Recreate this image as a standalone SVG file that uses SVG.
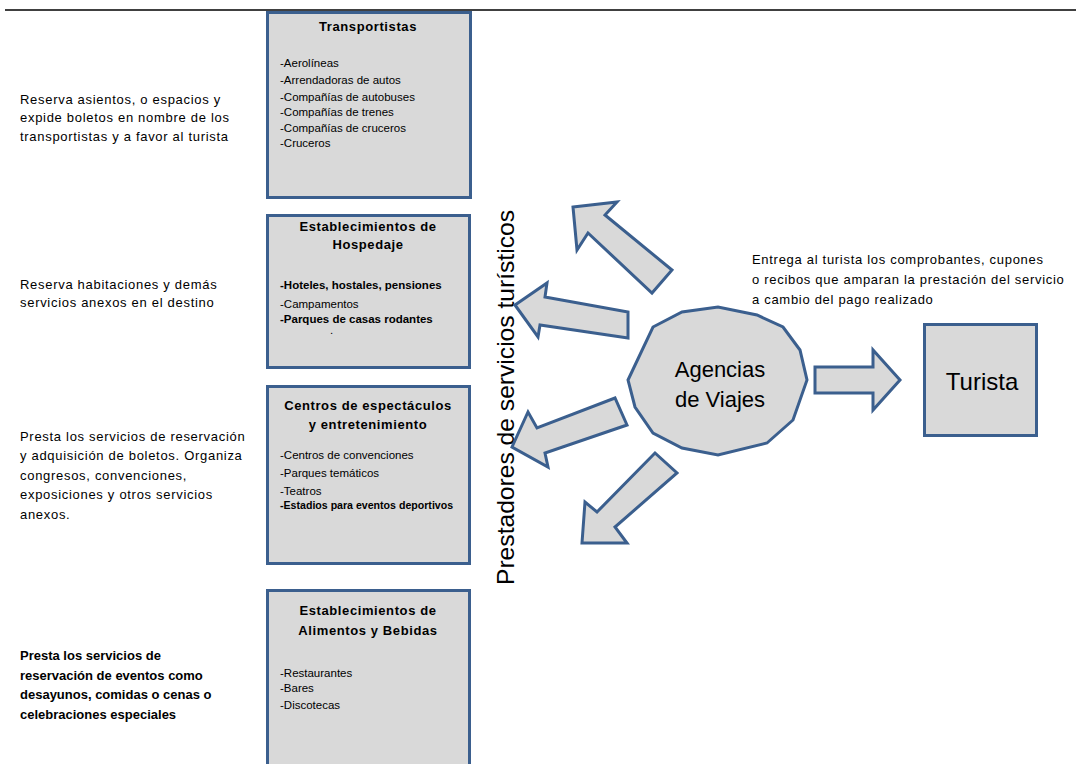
<svg xmlns="http://www.w3.org/2000/svg" width="1076" height="764" viewBox="0 0 1076 764">
<style>
.box{fill:#d9d9d9;stroke:#3b5f8e;stroke-width:3}
.shape{fill:#d9d9d9;stroke:#3b5f8e;stroke-width:3;stroke-linejoin:miter}
.t{font-family:"Liberation Sans",Arial,sans-serif;fill:#000}
.title{font-size:13px;font-weight:bold;text-anchor:middle;letter-spacing:0.6px}
.item{font-size:11.5px}
.desc{font-size:13px;letter-spacing:0.7px}
.descb{font-size:13px;font-weight:bold}
.big{font-size:22px;text-anchor:middle}
</style>
<rect width="1076" height="764" fill="#fff"/>
<line x1="5" y1="10" x2="1076" y2="10" stroke="#000" stroke-width="1.5"/>

<g id="desc-transportistas">
<text class="t desc" x="20" y="104">Reserva asientos, o espacios y</text>
<text class="t desc" x="20" y="122">expide boletos en nombre de los</text>
<text class="t desc" x="20" y="141">transportistas y a favor al turista</text>
</g>
<g id="desc-hospedaje">
<text class="t desc" x="20" y="289">Reserva habitaciones y demás</text>
<text class="t desc" x="20" y="307">servicios anexos en el destino</text>
</g>
<g id="desc-espectaculos">
<text class="t desc" x="20" y="441">Presta los servicios de reservación</text>
<text class="t desc" x="20" y="460">y adquisición de boletos. Organiza</text>
<text class="t desc" x="20" y="480">congresos, convenciones,</text>
<text class="t desc" x="20" y="499">exposiciones y otros servicios</text>
<text class="t desc" x="20" y="519">anexos.</text>
</g>
<g id="desc-alimentos">
<text class="t descb" x="20" y="660">Presta los servicios de</text>
<text class="t descb" x="20" y="680">reservación de eventos como</text>
<text class="t descb" x="20" y="699">desayunos, comidas o cenas o</text>
<text class="t descb" x="20" y="719">celebraciones especiales</text>
</g>

<g id="node-transportistas">
<rect class="box" x="267.5" y="12.5" width="203" height="185"/>
<text class="t title" x="368" y="31">Transportistas</text>
<text class="t item" x="280" y="67">-Aerolíneas</text>
<text class="t item" x="280" y="84">-Arrendadoras de autos</text>
<text class="t item" x="280" y="101">-Compañías de autobuses</text>
<text class="t item" x="280" y="116">-Compañías de trenes</text>
<text class="t item" x="280" y="132">-Compañías de cruceros</text>
<text class="t item" x="280" y="147">-Cruceros</text>
</g>
<g id="node-hospedaje">
<rect class="box" x="267.5" y="215.5" width="202" height="152"/>
<text class="t title" x="368" y="231">Establecimientos de</text>
<text class="t title" x="368" y="249">Hospedaje</text>
<text class="t item" x="280" y="289" font-weight="bold">-Hoteles, hostales, pensiones</text>
<text class="t item" x="280" y="308">-Campamentos</text>
<text class="t item" x="280" y="323" font-weight="bold">-Parques de casas rodantes</text>
<text class="t item" x="330" y="334">.</text>
</g>
<g id="node-espectaculos">
<rect class="box" x="267.5" y="386.5" width="202" height="177"/>
<text class="t title" x="368" y="410">Centros de espectáculos</text>
<text class="t title" x="368" y="429">y entretenimiento</text>
<text class="t item" x="280" y="459">-Centros de convenciones</text>
<text class="t item" x="280" y="477">-Parques temáticos</text>
<text class="t item" x="280" y="495">-Teatros</text>
<text class="t item" x="280" y="509" font-weight="bold" style="font-size:10.6px">-Estadios para eventos deportivos</text>
</g>
<g id="node-alimentos">
<rect class="box" x="267.5" y="590.5" width="202" height="180"/>
<text class="t title" x="368" y="615">Establecimientos de</text>
<text class="t title" x="368" y="635">Alimentos y Bebidas</text>
<text class="t item" x="280" y="677">-Restaurantes</text>
<text class="t item" x="280" y="692">-Bares</text>
<text class="t item" x="280" y="709">-Discotecas</text>
</g>

<g id="label-prestadores">
<text class="t" font-size="24" transform="translate(514,585) rotate(-90)" textLength="375" lengthAdjust="spacingAndGlyphs">Prestadores de servicios turísticos</text>
</g>

<g id="connectors">
<polygon class="shape" points="573,207 617,202 605,215 672,270 652,293 588,233 577,250"/>
<polygon class="shape" points="515,305 547,283 545,297 628,312 628,338 540,325 538,337"/>
<polygon class="shape" points="512,447 528,412 537,428 615,398 627,425 545,453 548,467"/>
<polygon class="shape" points="582,543 585,502 597,512 655,453 677,473 615,527 627,543"/>
<polygon class="shape" points="815,367 873,367 873,350 900,380 873,410 873,393 815,393"/>
</g>

<g id="node-agencias">
<polygon class="shape" points="628,380 653,327 682,312 718,307 757,315 783,327 800,350 807,380 793,420 767,443 718,455 682,448 653,433 635,407"/>
<text class="t big" x="720" y="377">Agencias</text>
<text class="t big" x="720" y="407">de Viajes</text>
</g>

<g id="desc-turista">
<text class="t desc" x="752" y="264">Entrega al turista los comprobantes, cupones</text>
<text class="t desc" x="752" y="284">o recibos que amparan la prestación del servicio</text>
<text class="t desc" x="752" y="304">a cambio del pago realizado</text>
</g>

<g id="node-turista">
<rect class="box" x="924.5" y="324.5" width="112" height="111"/>
<text class="t big" x="982" y="390" style="font-size:24px">Turista</text>
</g>
</svg>
